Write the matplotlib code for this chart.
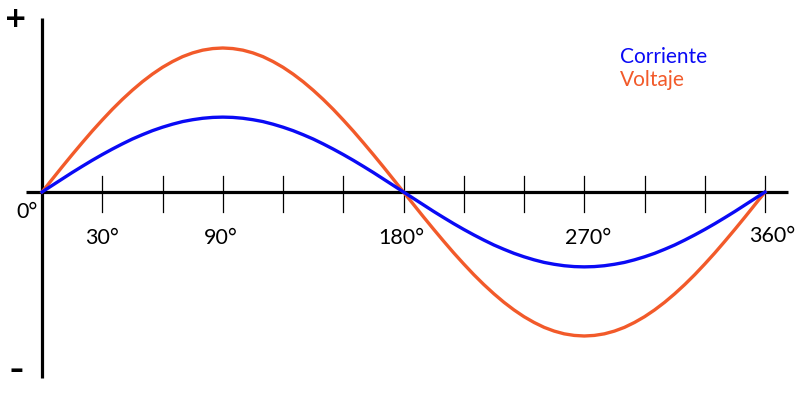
import matplotlib
matplotlib.use('Agg')
import matplotlib.pyplot as plt

# angles in degrees, read every 5 degrees
angulos = list(range(0, 361, 5))

voltaje = [0.000, 0.087, 0.174, 0.259, 0.342, 0.423, 0.500, 0.574, 0.643, 0.707,
           0.766, 0.819, 0.866, 0.906, 0.940, 0.966, 0.985, 0.996, 1.000,
           0.996, 0.985, 0.966, 0.940, 0.906, 0.866, 0.819, 0.766, 0.707, 0.643,
           0.574, 0.500, 0.423, 0.342, 0.259, 0.174, 0.087, 0.000,
           -0.087, -0.174, -0.259, -0.342, -0.423, -0.500, -0.574, -0.643, -0.707,
           -0.766, -0.819, -0.866, -0.906, -0.940, -0.966, -0.985, -0.996, -1.000,
           -0.996, -0.985, -0.966, -0.940, -0.906, -0.866, -0.819, -0.766, -0.707, -0.643,
           -0.574, -0.500, -0.423, -0.342, -0.259, -0.174, -0.087, 0.000]

corriente = [0.000, 0.045, 0.090, 0.135, 0.178, 0.220, 0.260, 0.298, 0.334, 0.368,
             0.398, 0.426, 0.450, 0.471, 0.489, 0.502, 0.512, 0.518, 0.520,
             0.518, 0.512, 0.502, 0.489, 0.471, 0.450, 0.426, 0.398, 0.368, 0.334,
             0.298, 0.260, 0.220, 0.178, 0.135, 0.090, 0.045, 0.000,
             -0.045, -0.090, -0.135, -0.178, -0.220, -0.260, -0.298, -0.334, -0.368,
             -0.398, -0.426, -0.450, -0.471, -0.489, -0.502, -0.512, -0.518, -0.520,
             -0.518, -0.512, -0.502, -0.489, -0.471, -0.450, -0.426, -0.398, -0.368, -0.334,
             -0.298, -0.260, -0.220, -0.178, -0.135, -0.090, -0.045, 0.000]

marcas = [30, 60, 90, 120, 150, 180, 210, 240, 270, 300, 330, 360]
etiquetas = ['30°', '90°', '180°', '270°']
etiquetas_pos = [30, 89, 179, 272]

azul = '#0a0af5'
naranja = '#f25a2a'

plt.rcParams['font.family'] = ['Lato', 'DejaVu Sans']

fig = plt.figure(figsize=(8, 3.99), dpi=100)
ax = fig.add_axes([0, 0, 1, 1])
ax.set_xlim(-20.91, 377.4)
ax.set_ylim(-1.4375, 1.3333)
ax.axis('off')

# axes lines
ax.plot([0, 0], [-1.292, 1.208], color='black', lw=2.3, solid_capstyle='butt')
ax.plot([-8, 371.5], [0, 0], color='black', lw=2.3, solid_capstyle='butt')
for m in marcas:
    ax.plot([m, m], [-0.139, 0.111], color='black', lw=0.9)

ax.plot(angulos, voltaje, color=naranja, lw=2.4, solid_joinstyle='round')
ax.plot(angulos, corriente, color=azul, lw=2.4, solid_joinstyle='round')

for t, p in zip(etiquetas, etiquetas_pos):
    ax.text(p, -0.32, t, fontsize=15.5, ha='center', va='center')
ax.text(-7.5, -0.139, '0°', fontsize=15.5, ha='center', va='center')
ax.text(363.5, -0.306, '360°', fontsize=15.5, ha='center', va='center')

ax.text(-12.9, 1.20, '+', fontsize=20, fontweight='bold', ha='center', va='center',
        family='DejaVu Sans')
ax.text(-12.9, -1.236, '–', fontsize=20, fontweight='bold', ha='center', va='center',
        family='DejaVu Sans')

ax.text(287.8, 0.9375, 'Corriente', fontsize=15, color=azul, ha='left', va='center')
ax.text(287.8, 0.778, 'Voltaje', fontsize=15, color=naranja, ha='left', va='center')

fig.savefig('out.png', dpi=100)
